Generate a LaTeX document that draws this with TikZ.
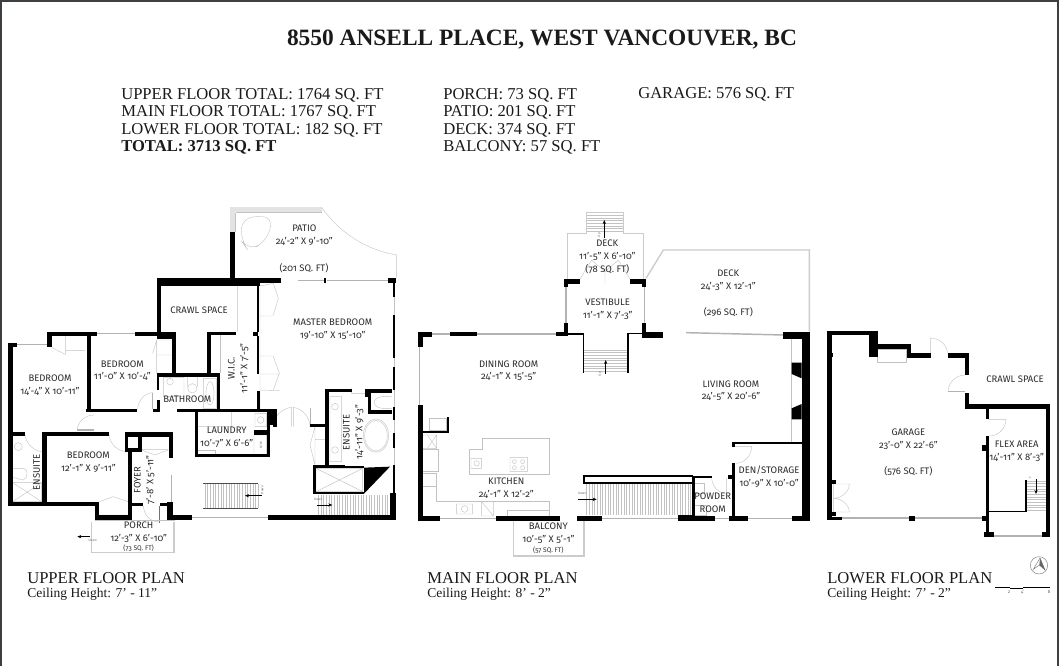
\documentclass[tikz,border=0pt]{standalone}
\usepackage{fontspec}
\setmainfont{Liberation Serif}
\newfontfamily\lblfont[Numbers=OldStyle]{Fira Sans}
\usetikzlibrary{arrows.meta}
\definecolor{edgec}{HTML}{3C4043}
\definecolor{ink}{HTML}{1A1A1A}
\definecolor{labelc}{HTML}{2B2B2B}
\tikzset{
  fix/.style={draw=black!24,line width=0.3pt},
  band/.style={draw=black!20,line width=1pt},
  wideband/.style={draw=black!11,line width=3.6pt},
  winl/.style={draw=black!30,line width=1.1pt},
  thinw/.style={draw=black,line width=0.9pt},
  head/.style={anchor=base west,inner sep=0pt,font=\fontsize{12.45pt}{14pt}\selectfont,text=ink},
  plantitle/.style={anchor=base west,inner sep=0pt,font=\fontsize{12.45pt}{14pt}\selectfont,text=ink},
  ceil/.style={anchor=base west,inner sep=0pt,font=\fontsize{10.15pt}{12pt}\selectfont,text=ink},
  lbl/.style={align=center,inner sep=0pt,text=labelc,font=\lblfont\fontsize{7.1pt}{9.6pt}\selectfont},
  small/.style={align=center,inner sep=0pt,text=labelc,font=\lblfont\fontsize{5pt}{6pt}\selectfont},
  tiny/.style={align=center,inner sep=0pt,text=black!60,font=\lblfont\fontsize{2.4pt}{3pt}\selectfont},
  stairarrow/.style={draw=black,line width=0.35pt,-{Stealth[length=3pt,width=2.4pt]}},
  zoomed/.style={x=0.25pt,y=-0.25pt}
}
\newcommand\wl[4]{\fill[black] (#1,#2) rectangle (#3,#4);}
\begin{document}
\begin{tikzpicture}[x=0.75pt,y=-0.75pt]
\useasboundingbox (0,0) rectangle (1059,666);
\fill[white] (0,0) rectangle (1059,666);
\fill[edgec] (0,0) rectangle (2,666);
\fill[edgec] (0,0) rectangle (1059,2);
\fill[edgec] (1057,0) rectangle (1059,666);

% header
\node[anchor=base,inner sep=0pt,text=ink,font=\fontsize{17.55pt}{20pt}\selectfont\bfseries] (title) at (542,46) {8550 ANSELL PLACE, WEST VANCOUVER, BC};
\node[head] (h1) at (121,100) {UPPER FLOOR TOTAL: 1764 SQ. FT};
\node[head] (h2) at (121,117) {MAIN FLOOR TOTAL: 1767 SQ. FT};
\node[head] (h3) at (121,135) {LOWER FLOOR TOTAL: 182 SQ. FT};
\node[head,font=\fontsize{12.45pt}{14pt}\selectfont\bfseries] (h4) at (121,152) {TOTAL: 3713 SQ. FT};
\node[head] (h5) at (443,100) {PORCH: 73 SQ. FT};
\node[head] (h6) at (443,117) {PATIO: 201 SQ. FT};
\node[head] (h7) at (443,135) {DECK: 374 SQ. FT};
\node[head] (h8) at (443,152) {BALCONY: 57 SQ. FT};
\node[head] (h9) at (638,99) {GARAGE: 576 SQ. FT};

\node[plantitle] (p1) at (27,583) {UPPER FLOOR PLAN};
\node[ceil] (c1) at (27,597) {Ceiling Height: 7’ - 11”};
\node[plantitle] (p2) at (427,583) {MAIN FLOOR PLAN};
\node[ceil] (c2) at (427,597) {Ceiling Height: 8’ - 2”};
\node[plantitle] (p3) at (827,583) {LOWER FLOOR PLAN};
\node[ceil] (c3) at (827,597) {Ceiling Height: 7’ - 2”};

% ---------- UPPER FLOOR ----------
\begin{scope}[shift={(0,200)},zoomed]
% light lines
\draw[wideband] (698,95) -- (698,28) -- (965,28);
\draw[fix] (965,22) .. controls (1020,100) and (1100,150) .. (1190,165) -- (1190,233);
\draw[fix] (707,38) -- (965,38) (707,38) -- (707,95);
\draw[fix,rounded corners=9pt] (725,52) -- (820,48) -- (800,125) -- (745,152) -- (722,120) -- cycle;
\draw[winl] (893,241) -- (972,241) (980,241) -- (1165,241);
\wl{973}{233}{979}{250}
\draw[fix] (1182,233) -- (1182,945);
\draw[fix] (780,250) -- (780,630) (820,250) -- (835,295) -- (820,345) (820,470) -- (838,520) -- (820,570)
  (780,348) -- (820,348) (780,468) -- (820,468) (780,522) -- (838,522) (780,570) -- (838,572)
  (712,258) -- (712,395) (780,258) -- (820,250);
\draw[fix] (662,405) -- (662,520);
\draw[winl] (50,434) -- (140,434) (290,400) -- (405,400);
\draw[fix] (155,442) -- (195,463) (197,408) -- (197,463) (197,452) -- (255,452);
\draw[fix] (470,420) -- (458,460) (470,420) -- (515,420) (470,465) -- (515,465) (470,420) -- (470,520);
\draw[fix] (490,532) rectangle (552,590) (562,530) -- (592,530) -- (592,560) (562,530) -- (562,560)
  (577,565) circle (14) (610,535) rectangle (650,625)
  (510,545) circle (10) (630,580) ellipse (12 and 35);
\draw[fix] (458,578) .. controls (435,578) and (415,600) .. (413,627);
\draw[winl] (458,578) -- (458,627);
\draw[fix] (232,690) .. controls (232,665) and (255,645) .. (283,645);
\draw[winl] (232,690) -- (283,690);
\draw[fix] (75,705) .. controls (78,730) and (100,752) .. (125,755) (38,708) -- (38,848)
  (30,805) -- (70,805) .. controls (85,805) and (85,835) .. (70,840) -- (30,830)
  (55,740) circle (12) (38,848) rectangle (125,905) (38,848) -- (125,905) (125,848) -- (38,905);
\draw[fix] (328,705) .. controls (330,735) and (355,755) .. (385,755);
\draw[fix] (298,905) -- (340,890) -- (385,905) (298,945) -- (385,945);
\draw[fix] (425,750) -- (465,765) -- (505,750) (425,748) -- (505,748);
\draw[fix] (430,918) .. controls (432,945) and (450,965) .. (475,965);
\draw[winl] (515,825) -- (515,905) (575,953) -- (805,953);
\draw[winl,draw=black!55] (479,918) -- (479,968);
\draw[fix] (762,705) rectangle (800,765) (765,640) rectangle (800,680) (782,660) circle (10)
  (595,635) -- (695,635) -- (695,680) -- (595,680);
\draw[fix] (595,750) -- (645,750) -- (645,762);
\draw[fix] (820,680) .. controls (820,650) and (845,625) .. (875,622) (875,622) -- (875,680)
  (930,680) .. controls (930,650) and (905,625) .. (880,622) (880,622) -- (880,680);
\draw[winl] (931,625) -- (931,672);
\draw[fix] (945,680) -- (930,735) -- (945,795) (945,718) -- (975,718) (945,680) -- (945,795);
\draw[fix] (990,590) rectangle (1025,785) (1005,620) circle (10) (1005,750) circle (10)
  (1175,590) -- (1145,590) .. controls (1115,595) and (1115,620) .. (1145,625) -- (1175,625)
  (1128,707) ellipse (38 and 50) (1128,707) ellipse (34 and 46)
  (1055,565) -- (1055,580) -- (1095,580);
\draw[fix] (948,805) rectangle (1088,875) (948,805) -- (1088,875) (1088,805) -- (948,875);
\foreach \x in {955,963,...,1170} \draw[fix] (\x,885) -- (\x,945);
\foreach \x in {615,623,...,775} \draw[fix] (\x,852) -- (\x,925);
\draw[draw=black!70,line width=0.5pt] (610,850) -- (775,850) (610,925) -- (775,925);
\draw[band] (275,965) -- (275,1058) -- (522,1058) -- (522,965);
\draw[fix] (285,960) -- (525,960);
% walls
\wl{690}{95}{705}{235}
\wl{470}{233}{842}{250}
\wl{470}{250}{780}{258}
\wl{470}{233}{482}{395}
\wl{770}{250}{778}{395}
\wl{760}{395}{775}{407}
\wl{770}{407}{778}{522}
\wl{772}{572}{780}{630}
\wl{405}{395}{480}{407}
\wl{470}{395}{528}{418}
\wl{515}{395}{528}{520}
\wl{470}{520}{660}{530}
\wl{470}{520}{478}{570}
\wl{650}{520}{660}{630}
\wl{620}{395}{632}{520}
\wl{620}{395}{708}{405}
\wl{140}{395}{155}{442}
\wl{140}{395}{290}{408}
\wl{25}{428}{50}{442}
\wl{25}{428}{38}{918}
\wl{260}{405}{272}{635}
\wl{258}{627}{410}{635}
\wl{460}{627}{480}{635}
\wl{470}{600}{480}{635}
\wl{530}{627}{820}{635}
\wl{25}{695}{75}{708}
\wl{125}{695}{328}{708}
\wl{125}{695}{140}{905}
\wl{25}{905}{290}{918}
\wl{285}{905}{298}{960}
\wl{285}{945}{395}{960}
\wl{385}{750}{395}{960}
\wl{375}{695}{518}{710}
\wl{375}{695}{385}{745}
\wl{415}{695}{425}{748}
\wl{375}{745}{425}{755}
\wl{508}{695}{518}{775}
\wl{500}{905}{518}{960}
\wl{480}{908}{518}{918}
\wl{390}{908}{430}{918}
\wl{518}{945}{575}{960}
\wl{805}{945}{1188}{960}
\wl{1170}{880}{1188}{960}
\wl{1165}{233}{1188}{250}
\wl{1178}{233}{1186}{290}
\wl{1178}{345}{1186}{475}
\wl{1178}{500}{1186}{570}
\wl{1178}{620}{1186}{660}
\wl{1178}{700}{1186}{745}
\wl{1178}{795}{1186}{880}
\wl{975}{568}{988}{800}
\wl{975}{568}{1055}{577}
\wl{1095}{568}{1175}{578}
\wl{1095}{568}{1112}{590}
\wl{1105}{590}{1112}{640}
\wl{1105}{630}{1175}{642}
\wl{930}{672}{975}{680}
\wl{940}{795}{1035}{805}
\wl{1035}{798}{1092}{803}
\wl{940}{805}{948}{882}
\wl{940}{875}{1092}{882}
\wl{585}{635}{595}{772}
\wl{585}{762}{810}{772}
\wl{800}{635}{810}{772}
\wl{762}{690}{808}{705}
\wl{805}{627}{820}{675}
\wl{820}{627}{830}{680}
\fill[black] (1092,803) -- (1170,800) -- (1092,881) -- cycle;
% small marks
\draw[stairarrow] (785,887) -- (735,887);
\draw[stairarrow] (950,915) -- (997,915);
\draw[stairarrow] (270,1010) -- (232,1010);
\node[tiny] (dn1) at (955,897) {Down};
\node[tiny] (dn2) at (278,1022) {Down};
\node[tiny,rotate=90] (dn3) at (787,870) {Down};
\node[tiny,rotate=90] (dw) at (783,735) {D/W};
% labels
\node[lbl] (patio) at (913,105) {PATIO\\24’-2” X 9’-10”};
\node[lbl,fill=white] (patioa) at (912,204) {(201 SQ. FT)};
\node[lbl] (crawlu) at (597,330) {CRAWL SPACE};
\node[lbl] (master) at (998,388) {MASTER BEDROOM\\19’-10” X 15’-10”};
\node[lbl] (bed2) at (367,512) {BEDROOM\\11’-0” X 10’-4”};
\node[lbl] (bed1) at (150,555) {BEDROOM\\14’-4” X 10’-11”};
\node[lbl] (bath) at (562,598) {BATHROOM};
\node[lbl,rotate=90] (wic) at (715,505) {W.I.C.\\11’-1” X 7’-5”};
\node[lbl] (laundry) at (680,712) {LAUNDRY\\10’-7” X 6’-6”};
\node[lbl,rotate=90] (ens2) at (1060,697) {ENSUITE\\14’-11” X 9’-3”};
\node[lbl,rotate=90] (ens1) at (110,817) {ENSUITE};
\node[lbl] (bed3) at (265,786) {BEDROOM\\12’-1” X 9’-11”};
\node[lbl,rotate=90] (foyer) at (433,840) {FOYER\\7’-8’ X 5’-11”};
\node[lbl] (porch) at (416,975) {PORCH};
\node[lbl] (porchd) at (416,1014) {12’-3” X 6’-10”};
\node[small] (porcha) at (416,1044) {(73 SQ. FT)};
\end{scope}

% ---------- MAIN FLOOR ----------
\begin{scope}[shift={(410,200)},zoomed]
\draw[band] (472,237) -- (472,100) -- (530,100) (640,100) -- (700,100) -- (700,237);
\draw[band] (530,100) -- (530,38) -- (640,38) -- (640,100);
\foreach \y in {46,54,...,98} \draw[fix] (530,\y) -- (640,\y);
\draw[fix] (545,180) -- (585,215) -- (625,180) (510,237) -- (545,180) (660,237) -- (625,180) (585,215) -- (585,250);
\draw[stairarrow] (583,115) -- (583,60);
\node[tiny,rotate=90] (up1) at (568,105) {Up};
\draw[winl] (468,262) -- (468,368) (703,262) -- (703,368);
\draw[band] (708,235) -- (760,150) -- (1198,150) -- (1198,395);
\draw[winl] (828,398) -- (1120,405);
\foreach \y in {450,458,...,518} \draw[fix] (522,\y) -- (652,\y);
\draw[stairarrow] (587,522) -- (587,480);
\node[tiny,rotate=90] (up2) at (570,522) {Up};
\foreach \x in {530,538,...,846} \draw[fix] (\x,852) -- (\x,945);
\draw[stairarrow] (505,898) -- (560,898);
\node[tiny] (dn4) at (517,881) {Down};
\draw[winl] (65,402) -- (120,402) (200,402) -- (437,402) (28,440) -- (28,615)
  (90,955) -- (258,955) (575,955) -- (805,955) (1015,955) -- (1145,955) (915,955) -- (960,955);
\draw[fix] (178,748) -- (218,748) -- (218,716) -- (418,716) -- (418,823) -- (178,823) -- cycle;
\draw[fix] (183,775) rectangle (215,805) (300,772) rectangle (352,815)
  (313,785) circle (6) (338,785) circle (6) (313,803) circle (6) (338,803) circle (6) (200,790) circle (8);
\draw[fix] (38,705) rectangle (80,745) (52,705) -- (80,745) (80,705) -- (52,745);
\draw[fix] (38,748) rectangle (85,815) (38,820) rectangle (80,860);
\draw[fix] (80,860) -- (80,905) -- (418,905) -- (418,948);
\draw[fix] (140,912) rectangle (188,942) (164,927) circle (10);
\draw[fix] (215,905) rectangle (250,948) (215,905) -- (250,948);
\draw[fix] (292,948) -- (292,930) -- (418,930);
\draw[fix] (58,655) rectangle (108,692);
\draw[fix] (1145,418) -- (1145,725);
\draw[fix] (975,740) -- (1025,740) .. controls (1025,765) and (1005,790) .. (978,790);
\draw[fix] (905,835) .. controls (907,860) and (925,880) .. (950,880) (950,835) -- (950,880);
\draw[fix] (852,850) rectangle (882,880) (852,915) rectangle (890,945);
\draw[band] (310,963) -- (310,1068) -- (522,1068) -- (522,963);
% walls
\wl{25}{395}{65}{410}
\wl{120}{397}{200}{408}
\wl{437}{397}{475}{408}
\wl{462}{368}{475}{408}
\wl{25}{395}{38}{440}
\wl{25}{615}{38}{963}
\wl{25}{948}{90}{963}
\wl{258}{948}{450}{963}
\wl{500}{948}{575}{963}
\wl{805}{945}{855}{963}
\wl{845}{828}{855}{963}
\wl{845}{948}{915}{963}
\wl{958}{948}{1015}{963}
\wl{1145}{948}{1200}{963}
\wl{1175}{395}{1200}{963}
\wl{1120}{395}{1200}{418}
\fill[black] (1145,488) -- (1175,488) -- (1175,535) -- (1145,522) -- cycle;
\fill[black] (1145,658) -- (1175,658) -- (1175,612) -- (1145,625) -- cycle;
\wl{462}{237}{510}{252}
\wl{462}{237}{475}{260}
\wl{660}{237}{708}{252}
\wl{696}{237}{708}{260}
\wl{696}{368}{708}{415}
\wl{696}{395}{760}{415}
\wl{518}{400}{523}{520}
\wl{652}{400}{657}{520}
\wl{475}{400}{523}{404}
\wl{652}{398}{700}{402}
\wl{38}{692}{118}{700}
\wl{110}{650}{118}{700}
\wl{518}{825}{848}{830}
\wl{518}{847}{848}{852}
\wl{518}{825}{524}{852}
\wl{845}{828}{905}{835}
\wl{955}{826}{975}{836}
\wl{965}{790}{975}{963}
\wl{965}{727}{975}{740}
\wl{965}{727}{1175}{732}
% labels
\node[lbl] (deck1) at (592,170) {DECK\\11’-5” X 6’-10”\\(78 SQ. FT)};
\node[lbl] (deck2) at (955,240) {DECK\\24’-3” X 12’-1”};
\node[lbl] (deck2a) at (955,336) {(296 SQ. FT)};
\node[lbl] (vest) at (593,327) {VESTIBULE\\11’-1” X 7’-3”};
\node[lbl] (dining) at (296,512) {DINING ROOM\\24’-1” X 15’-5”};
\node[lbl] (living) at (963,572) {LIVING ROOM\\24’-5” X 20’-6”};
\node[lbl] (kitchen) at (289,864) {KITCHEN\\24’-1” X 12’-2”};
\node[lbl] (den) at (1077,830) {DEN/STORAGE\\10’-9” X 10’-0”};
\node[lbl] (powder) at (908,890) {POWDER};
\node[lbl] (powder2) at (908,928) {ROOM};
\node[lbl] (balc) at (415,980) {BALCONY};
\node[lbl] (balcd) at (415,1018) {10’-5” X 5’-1”};
\node[small] (balca) at (415,1049) {(57 SQ. FT)};
\end{scope}

% ---------- LOWER FLOOR ----------
\begin{scope}[shift={(810,320)},zoomed]
\draw[fix] (203,88) rectangle (290,127);
\draw[fix] (362,53) -- (362,113) (362,55) .. controls (390,55) and (412,75) .. (412,100);
\draw[fix] (465,165) .. controls (438,165) and (415,188) .. (415,212);
\draw[winl] (415,215) -- (465,215);
\draw[fix] (535,298) -- (588,298) .. controls (588,325) and (565,348) .. (538,348);
\draw[fix] (65,490) rectangle (70,578) (70,492) -- (118,492) .. controls (118,515) and (95,535) .. (70,535)
  (70,576) -- (118,576) .. controls (118,555) and (95,535) .. (70,535);
\draw[winl] (95,594) -- (515,594) (552,648) -- (695,648);
\foreach \y in {483,491,...,572} \draw[fix] (650,\y) -- (708,\y);
\draw[stairarrow] (678,478) -- (678,522);
\node[tiny] (dn5) at (660,474) {4};
% walls
\wl{50}{32}{203}{45}
\wl{50}{32}{65}{600}
\wl{50}{590}{95}{600}
\wl{178}{32}{203}{112}
\wl{203}{73}{303}{88}
\wl{290}{73}{303}{113}
\wl{290}{100}{362}{113}
\wl{415}{100}{478}{113}
\wl{465}{100}{478}{165}
\wl{465}{218}{478}{268}
\wl{465}{253}{720}{268}
\wl{708}{253}{720}{650}
\wl{528}{268}{538}{298}
\wl{528}{348}{538}{650}
\wl{515}{375}{528}{392}
\wl{296}{588}{315}{602}
\wl{515}{588}{530}{602}
\wl{522}{635}{552}{652}
\wl{695}{635}{720}{652}
\wl{65}{100}{70}{112}
\wl{65}{480}{77}{492}
\wl{65}{576}{77}{588}
\wl{538}{573}{650}{577}
\wl{645}{480}{650}{577}
% compass and scale
\draw[fix,draw=black!55] (687,736) circle (26);
\draw[fix,draw=black!55] (670,748) -- (690,714) -- (705,750) -- (688,735) -- cycle;
\fill[black!60] (690,714) -- (688,735) -- (705,750) -- cycle;
\draw[black,line width=1pt] (556,802) -- (600,802) (640,802) -- (720,802);
\draw[black,line width=1pt] (600,806) -- (640,806);
\node[tiny,font=\lblfont\fontsize{3.4pt}{4pt}\selectfont] (sc1) at (597,817) {2};
\node[tiny,font=\lblfont\fontsize{3.4pt}{4pt}\selectfont] (sc2) at (638,817) {4’};
\node[tiny,font=\lblfont\fontsize{3.4pt}{4pt}\selectfont] (sc3) at (717,817) {8};
% labels
\node[lbl] (crawll) at (615,177) {CRAWL SPACE};
\node[lbl] (garage) at (295,358) {GARAGE\\23’-0” X 22’-6”};
\node[lbl] (garagea) at (295,455) {(576 SQ. FT)};
\node[lbl] (flex) at (620,394) {FLEX AREA\\14’-11” X 8’-3”};
\end{scope}
\end{tikzpicture}
\end{document}
